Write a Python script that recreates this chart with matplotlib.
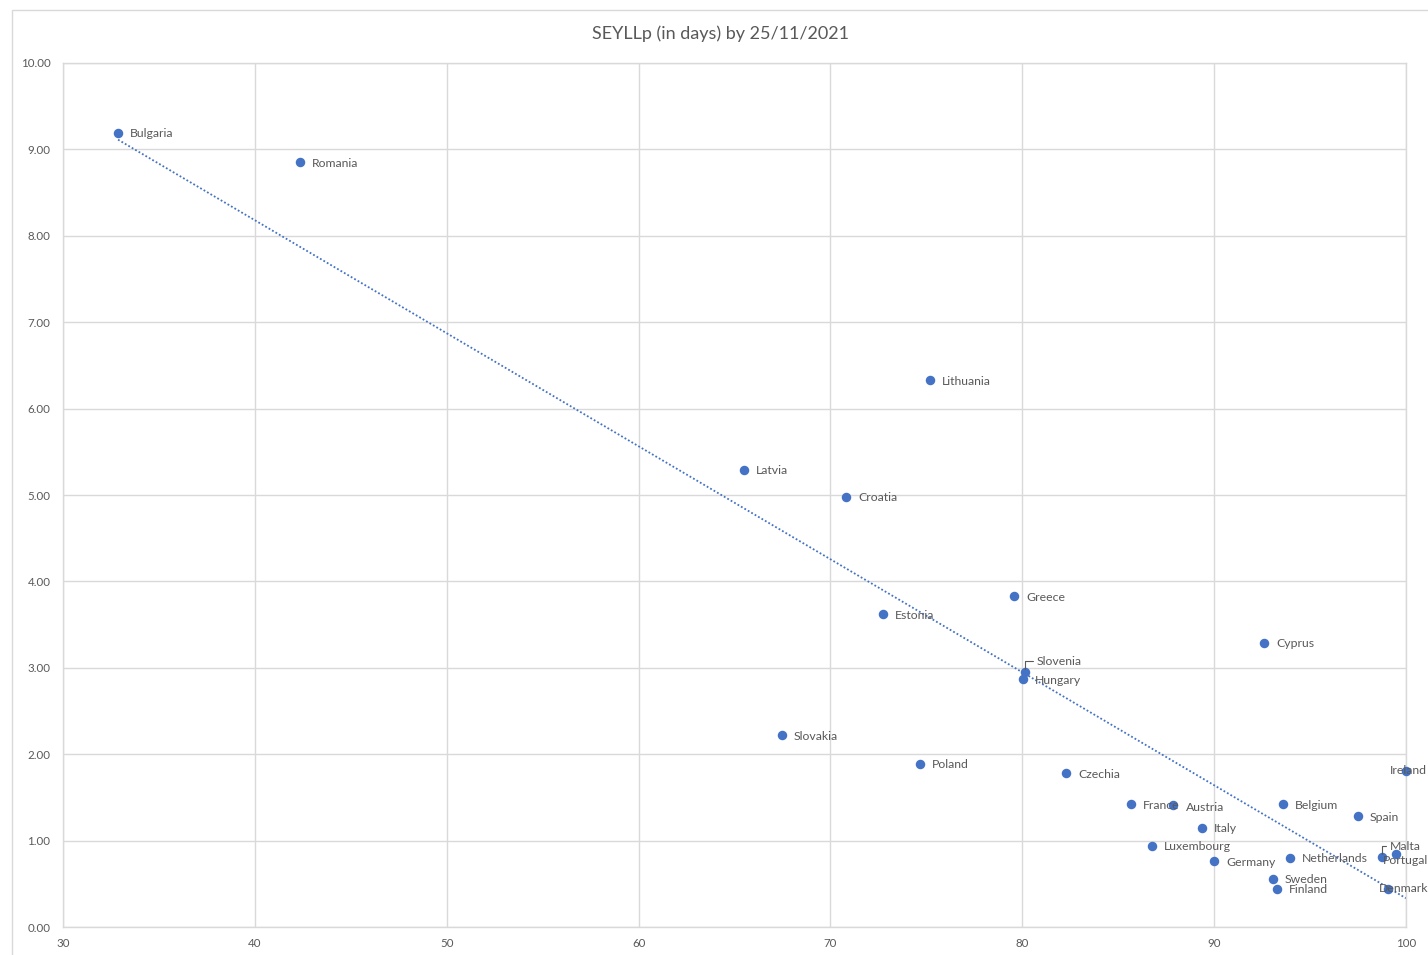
import numpy as np
import matplotlib.pyplot as plt
from matplotlib.patches import Rectangle

plt.rcParams['font.family'] = ['Lato', 'DejaVu Sans']

# Data
countries = ["Bulgaria", "Romania", "Lithuania", "Latvia", "Croatia", "Estonia",
             "Greece", "Cyprus", "Slovenia", "Hungary", "Slovakia", "Poland",
             "Czechia", "Ireland", "France", "Austria", "Belgium", "Spain",
             "Italy", "Luxembourg", "Germany", "Netherlands", "Malta", "Portugal",
             "Sweden", "Finland", "Denmark"]
x_vals = [32.87, 42.35, 75.19, 65.49, 70.81, 72.74,
          79.57, 92.60, 80.14, 80.04, 67.48, 74.67,
          82.28, 100.0, 85.67, 87.85, 93.59, 97.50,
          89.37, 86.76, 89.99, 93.95, 98.75, 99.48,
          93.07, 93.28, 99.06]
y_vals = [9.19, 8.85, 6.33, 5.29, 4.98, 3.62,
          3.83, 3.29, 2.95, 2.87, 2.22, 1.89,
          1.78, 1.81, 1.42, 1.41, 1.42, 1.28,
          1.15, 0.94, 0.76, 0.80, 0.81, 0.84,
          0.56, 0.44, 0.44]

# label offsets in pixels (dx, dy), default to the right of the point
label_offsets = {
    "Slovenia": (12, 11),
    "Ireland": (-16, 0),
    "Austria": (13, -2),
    "Germany": (12, -1),
    "Malta": (8, 11),
    "Portugal": (-13, -6),
    "Denmark": (-9, 0),
}

blue = "#4472C4"
grey = "#595959"
grid = "#d9d9d9"

fig = plt.figure(figsize=(14.28, 9.55), dpi=100)
ax = fig.add_axes([63 / 1428, 28 / 955, 1343 / 1428, 864 / 955])

# outer chart border
fig.patches.append(Rectangle((12 / 1428, -0.1), 1.2, 1.1 - 10 / 955,
                             transform=fig.transFigure, fill=False,
                             edgecolor=grid, linewidth=1))

ax.scatter(x_vals, y_vals, s=34, color=blue, zorder=3, clip_on=False)

# linear trendline
coef = np.polyfit(x_vals, y_vals, 1)
tx = np.array([min(x_vals), 100])
ax.plot(tx, np.polyval(coef, tx), linestyle=(0, (1, 1.2)), color=blue,
        linewidth=1.3, zorder=2)

for name, xv, yv in zip(countries, x_vals, y_vals):
    dx, dy = label_offsets.get(name, (12, -1))
    ax.annotate(name, (xv, yv), xytext=(dx, dy), textcoords="offset pixels",
                ha="left", va="center", fontsize=8.8, color=grey,
                annotation_clip=False, zorder=4)

# leader lines
ax.annotate("", (80.14, 2.95), xytext=(11, 11), textcoords="offset pixels",
            arrowprops=dict(arrowstyle="-", color=grey, lw=0.8,
                            connectionstyle="angle,angleA=0,angleB=90,rad=0"))
ax.annotate("", (98.75, 0.81), xytext=(7, 11), textcoords="offset pixels",
            arrowprops=dict(arrowstyle="-", color=grey, lw=0.8,
                            connectionstyle="angle,angleA=0,angleB=90,rad=0"))

ax.set_xlim(30, 100)
ax.set_ylim(0, 10)
ax.set_xticks(range(30, 101, 10))
ax.set_yticks(np.arange(0, 10.01, 1))
ax.yaxis.set_major_formatter(plt.FormatStrFormatter("%.2f"))
ax.tick_params(length=0, labelsize=8.3, labelcolor=grey)
ax.tick_params(axis="y", pad=9)
ax.tick_params(axis="x", pad=8)
ax.grid(True, color=grid, linewidth=1)
ax.set_axisbelow(True)
for sp in ax.spines.values():
    sp.set_color(grid)
    sp.set_linewidth(1)

fig.text(721 / 1428, 1 - 34 / 955, "SEYLLp (in days) by 25/11/2021",
         ha="center", va="center", fontsize=13, color=grey)

fig.savefig("out.png", dpi=100)
